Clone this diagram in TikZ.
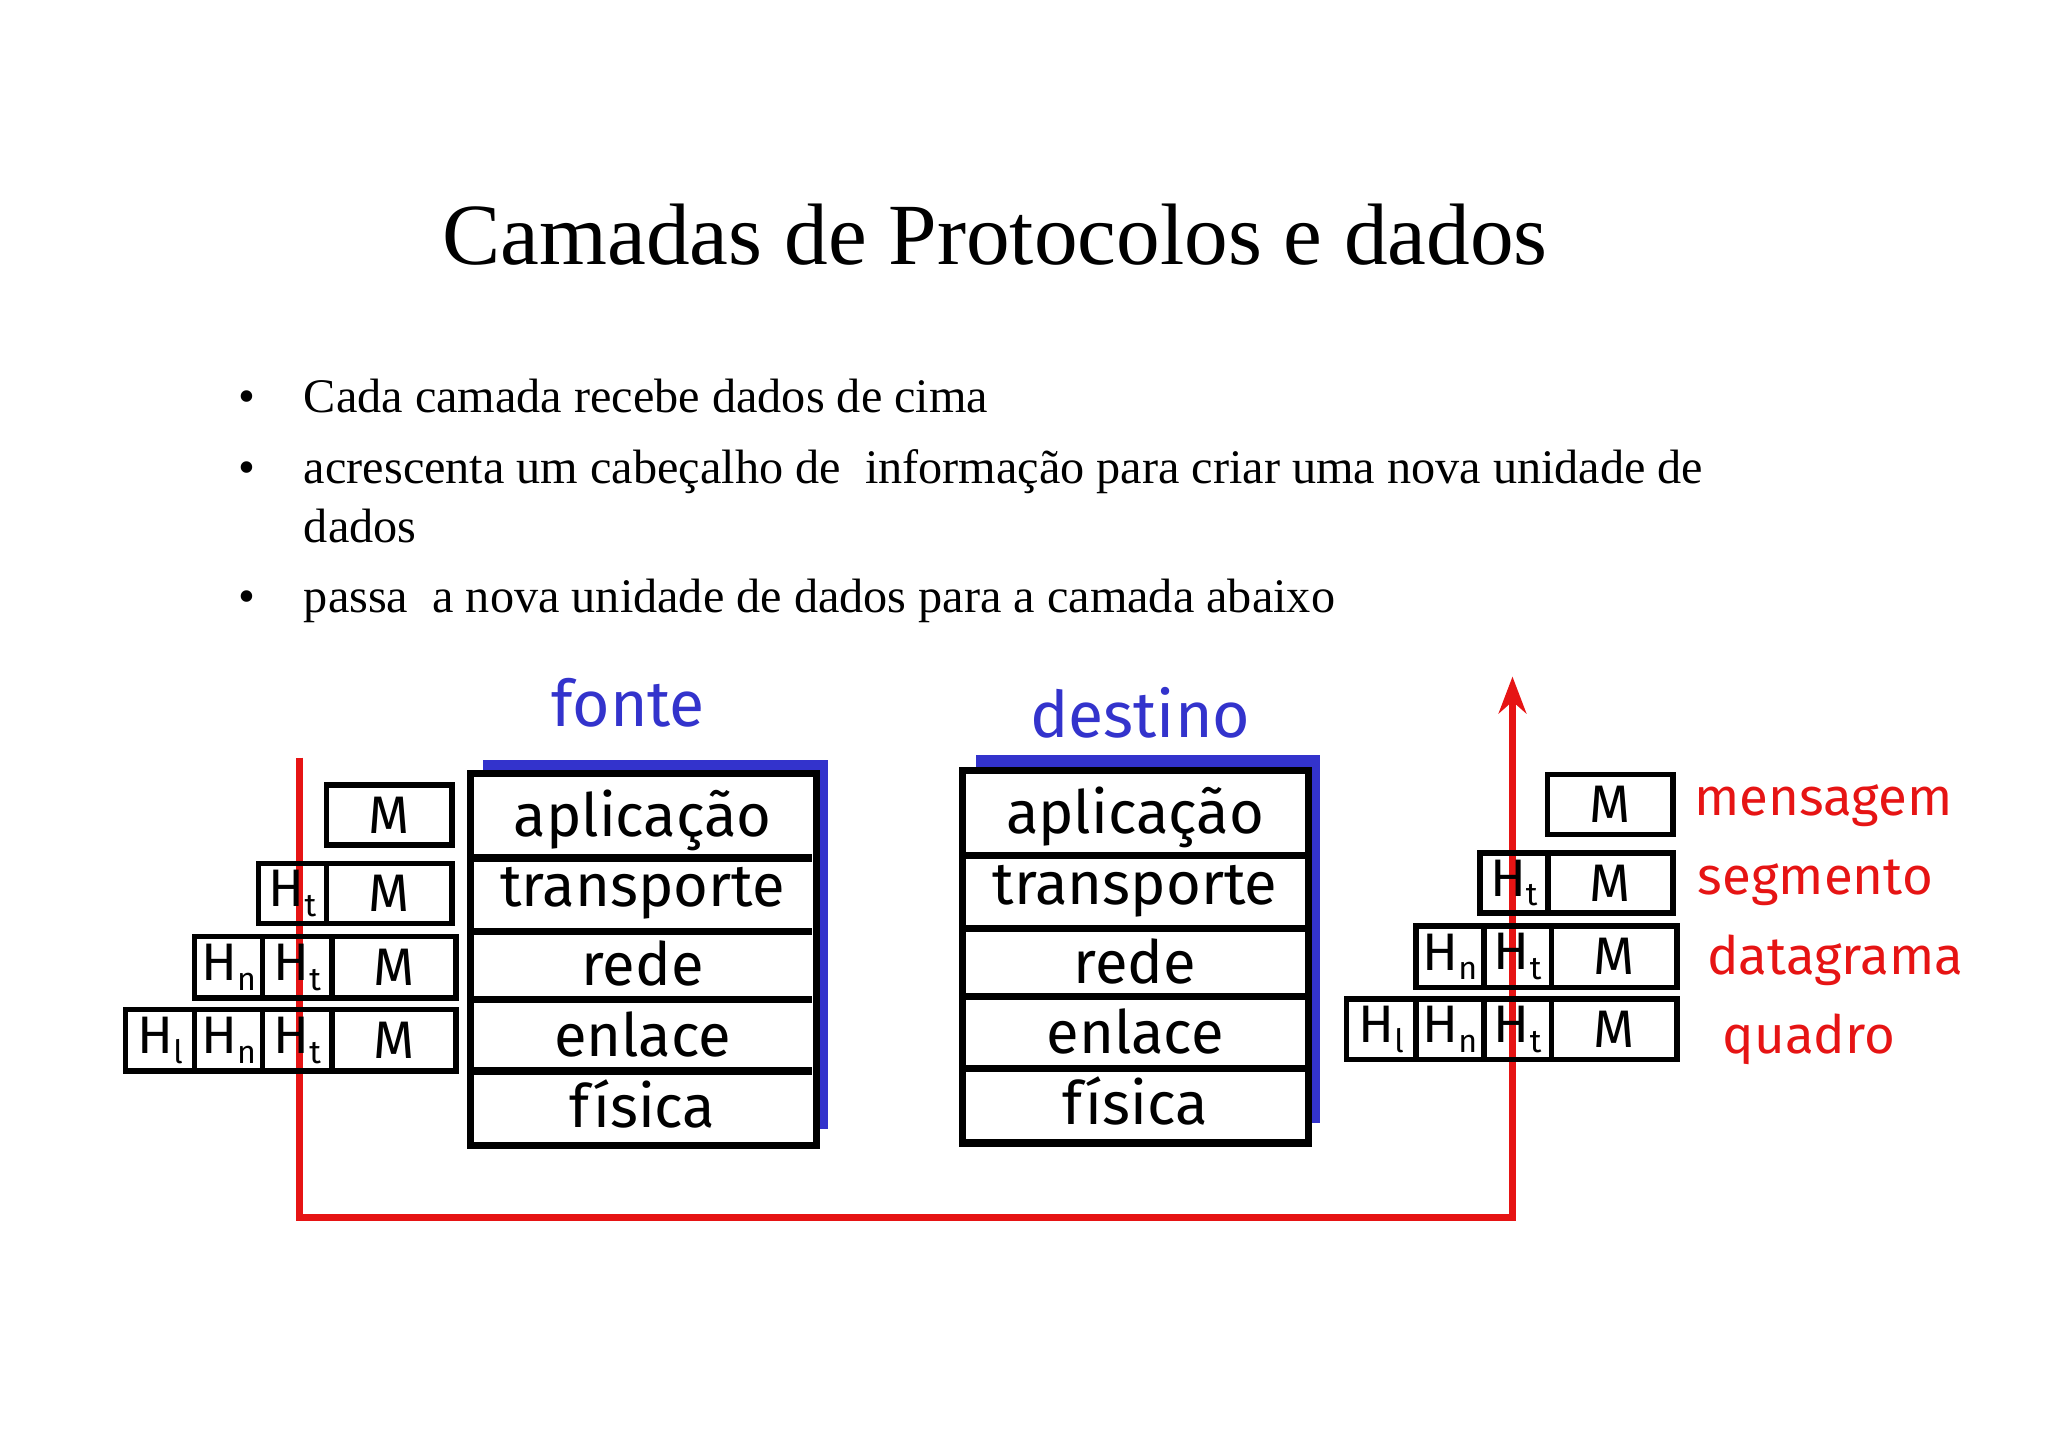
\documentclass[tikz,border=0pt]{standalone}
\usepackage{fontspec}
\setmainfont{Liberation Serif}
\newfontfamily\dfont{Fira Sans}
\usetikzlibrary{arrows.meta}
\definecolor{myblue}{RGB}{51,51,204}
\definecolor{myred}{RGB}{230,20,20}
\newcommand{\Hs}[1]{H\raisebox{-0.35ex}{\scriptsize #1}}
\begin{document}
\begin{tikzpicture}[x=0.01cm,y=-0.01cm,
  hbox/.style={draw=black,line width=1.2pt,inner sep=0pt,font=\dfont\fontsize{11.5}{12}\selectfont},
  layer/.style={font=\dfont\fontsize{13}{13}\selectfont},
  lbl/.style={font=\dfont\fontsize{11.5}{12}\selectfont,text=myred},
  ttl/.style={font=\dfont\fontsize{14}{14}\selectfont,text=myblue},
  btxt/.style={anchor=base west,font=\fontsize{10.5}{13}\selectfont,inner sep=0pt},
  red line/.style={draw=myred,line width=1.5pt}]
\useasboundingbox (0,0) rectangle (1568,1108);
\node (title) at (762,180) {\fontsize{19}{22}\selectfont Camadas de Protocolos e dados};
\node[btxt] (d1) at (182,316) {\textbullet};
\node[btxt] (b1) at (232,316) {Cada camada recebe dados de cima};
\node[btxt] (d2) at (182,370) {\textbullet};
\node[btxt] (b2) at (232,370) {acrescenta um cabeçalho de\ \ informação para criar uma nova unidade de};
\node[btxt] (b2b) at (232,415) {dados};
\node[btxt] (d3) at (182,469) {\textbullet};
\node[btxt] (b3) at (232,469) {passa\ \ a nova unidade de dados para a camada abaixo};
% red path
\coordinate (rl0) at (229,580);
\coordinate (rl1) at (229,932);
\coordinate (rr1) at (1158,932);
\coordinate (rr0) at (1158,518);
\draw[red line,-{Stealth[length=8pt]}] (rl0) -- (rl1) -- (rr1) -- (rr0);
% stacks
\foreach \nm/\x/\y/\sx/\sy in {f/360/592/370/582, d/737/590/747/578}{
  \fill[myblue] (\sx,\sy) rectangle ++(264,282);
  \fill[white] (\x,\y) rectangle ++(265,285);
}
\foreach \nm/\x/\y in {f/360/592, d/737/590}{
  \draw[line width=1.6pt] (\x,\y) rectangle ++(265,285);
  \foreach \dy in {65,121,173,228} \draw[line width=1.6pt] (\x,\y+\dy) -- ++(262,0);
  \node[layer] (\nm1) at (\x+132,\y+36) {aplicação};
  \node[layer] (\nm2) at (\x+132,\y+92) {transporte};
  \node[layer] (\nm3) at (\x+132,\y+146) {rede};
  \node[layer] (\nm4) at (\x+132,\y+200) {enlace};
  \node[layer] (\nm5) at (\x+132,\y+253) {física};
}
\node[ttl] (fonte) at (481,538) {fonte};
\node[ttl] (destino) at (873,546) {destino};
% left headers
\node[hbox,minimum width=0.96cm,minimum height=0.46cm] (lM1) at (298,624) {M};
\node[hbox,minimum width=0.96cm,minimum height=0.46cm] (lM2) at (298,684) {M};
\node[hbox,minimum width=0.52cm,minimum height=0.46cm] (lT2) at (224,684) {\Hs{t}};
\node[hbox,minimum width=0.95cm,minimum height=0.47cm] (lM3) at (301.5,740.5) {M};
\node[hbox,minimum width=0.53cm,minimum height=0.47cm] (lT3) at (227.5,740.5) {\Hs{t}};
\node[hbox,minimum width=0.52cm,minimum height=0.47cm] (lN3) at (175,740.5) {\Hs{n}};
\node[hbox,minimum width=0.95cm,minimum height=0.47cm] (lM4) at (301.5,796.5) {M};
\node[hbox,minimum width=0.53cm,minimum height=0.47cm] (lT4) at (227.5,796.5) {\Hs{t}};
\node[hbox,minimum width=0.52cm,minimum height=0.47cm] (lN4) at (175,796.5) {\Hs{n}};
\node[hbox,minimum width=0.53cm,minimum height=0.47cm] (lL4) at (122.5,796.5) {\Hs{l}};
% right headers
\node[hbox,minimum width=0.96cm,minimum height=0.46cm] (rM1) at (1233,616) {M};
\node[hbox,minimum width=0.96cm,minimum height=0.46cm] (rM2) at (1233,676) {M};
\node[hbox,minimum width=0.52cm,minimum height=0.46cm] (rT2) at (1159,676) {\Hs{t}};
\node[hbox,minimum width=0.96cm,minimum height=0.47cm] (rM3) at (1236,732.5) {M};
\node[hbox,minimum width=0.52cm,minimum height=0.47cm] (rT3) at (1162,732.5) {\Hs{t}};
\node[hbox,minimum width=0.52cm,minimum height=0.47cm] (rN3) at (1110,732.5) {\Hs{n}};
\node[hbox,minimum width=0.96cm,minimum height=0.46cm] (rM4) at (1236,788) {M};
\node[hbox,minimum width=0.52cm,minimum height=0.46cm] (rT4) at (1162,788) {\Hs{t}};
\node[hbox,minimum width=0.52cm,minimum height=0.46cm] (rN4) at (1110,788) {\Hs{n}};
\node[hbox,minimum width=0.53cm,minimum height=0.46cm] (rL4) at (1057.5,788) {\Hs{l}};
% labels
\node[lbl] (mens) at (1396,617) {mensagem};
\node[lbl] (seg) at (1390,676) {segmento};
\node[lbl] (dat) at (1405,735) {datagrama};
\node[lbl] (quad) at (1385,796) {quadro};
\end{tikzpicture}
\end{document}
